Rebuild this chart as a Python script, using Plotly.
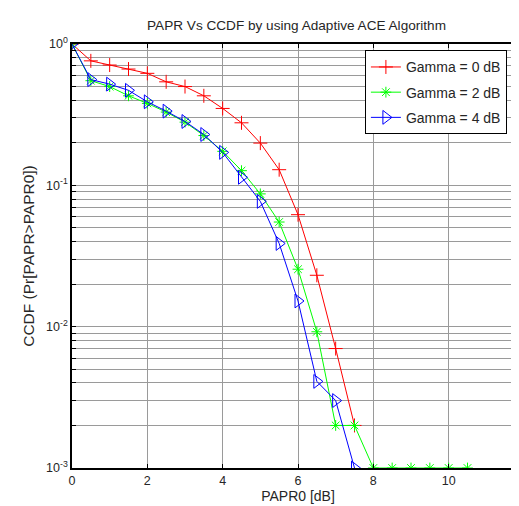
import plotly.graph_objects as go

papr = [0, 0.5, 1, 1.5, 2, 2.5, 3, 3.5, 4, 4.5, 5, 5.5, 6, 6.5, 7, 7.5, 8, 8.5, 9, 9.5, 10, 10.5]

ccdf_g0 = [1.0, 0.76, 0.71, 0.665, 0.62, 0.54, 0.50, 0.43, 0.35, 0.277, 0.199, 0.129, 0.062, 0.0231, 0.0070, 0.0020]
ccdf_g2 = [1.0, 0.55, 0.50, 0.43, 0.38, 0.33, 0.28, 0.225, 0.174, 0.127, 0.087, 0.055, 0.0255, 0.0092, 0.0020, 0.0020,
           0.001, 0.001, 0.001, 0.001, 0.001, 0.001]
ccdf_g4 = [1.0, 0.56, 0.52, 0.47, 0.39, 0.335, 0.283, 0.229, 0.171, 0.114, 0.077, 0.0388, 0.0152, 0.0041, 0.0030, 0.0010]

names = ["Gamma = 0 dB", "Gamma = 2 dB", "Gamma = 4 dB"]

y_tickvals = []
y_ticktext = []
for e in [-3, -2, -1]:
    for m in range(1, 10):
        y_tickvals.append(m * 10 ** e)
        y_ticktext.append("10<sup>%d</sup>" % e if m == 1 else "")
y_tickvals.append(1)
y_ticktext.append("10<sup>0</sup>")

fig = go.Figure()
fig.add_trace(go.Scatter(x=papr[:len(ccdf_g0)], y=ccdf_g0, name=names[0], mode="lines+markers", legendgroup="g0",
                         line=dict(color="#ff0000", width=1),
                         marker=dict(symbol="cross-thin", size=10, line=dict(color="#ff0000", width=1))))
fig.add_trace(go.Scatter(x=papr[:len(ccdf_g2)], y=ccdf_g2, name=names[1], mode="lines+markers", legendgroup="g2",
                         line=dict(color="#00ff00", width=1),
                         marker=dict(symbol="asterisk", size=9, line=dict(color="#00ff00", width=1))))
fig.add_trace(go.Scatter(x=papr[:len(ccdf_g4)], y=ccdf_g4, name=names[2], mode="lines+markers", legendgroup="g4",
                         line=dict(color="#0000ff", width=1),
                         marker=dict(symbol="triangle-right-open", size=12, line=dict(color="#0000ff", width=1))))

sans = "Liberation Sans, Arial, sans-serif"
fig.update_layout(
    width=519, height=506,
    margin=dict(l=64, r=3, t=36, b=46),
    paper_bgcolor="white", plot_bgcolor="white",
    font=dict(family=sans, size=12.5, color="#262626"),
    title=dict(text="PAPR Vs CCDF by using Adaptive ACE Algorithm", x=288.5 / 519, xanchor="center",
               y=1 - 17.5 / 506, yanchor="middle", font=dict(size=13.6, color="#262626")),
    showlegend=True,
    legend=dict(x=0.648, y=0.985, xanchor="left", yanchor="top", bgcolor="white",
                bordercolor="black", borderwidth=1, font=dict(size=14, color="#262626"),
                tracegroupgap=4),
    xaxis=dict(range=[0, 12], dtick=2, tick0=0, showgrid=True, gridcolor="#9a9a9a", gridwidth=1,
               showline=True, linecolor="black", linewidth=1.5, mirror="ticks", ticks="inside",
               ticklen=4, tickcolor="black", zeroline=False, automargin=False,
               ticklabeloverflow="allow",
               title=dict(text="PAPR0 [dB]", standoff=4, font=dict(size=14)),
               tickfont=dict(size=12.5)),
    yaxis=dict(type="log", range=[-3, 0], tickmode="array", tickvals=y_tickvals, ticktext=y_ticktext,
               showgrid=True, gridcolor="#9a9a9a", gridwidth=1,
               showline=True, linecolor="black", linewidth=1.5, mirror="ticks", ticks="inside",
               ticklen=4, tickcolor="black", zeroline=False, automargin=False,
               title=dict(text="CCDF (Pr[PAPR>PAPR0])", standoff=8, font=dict(size=15.5)),
               tickfont=dict(size=12.5)),
)

fig.write_html("out.html")
